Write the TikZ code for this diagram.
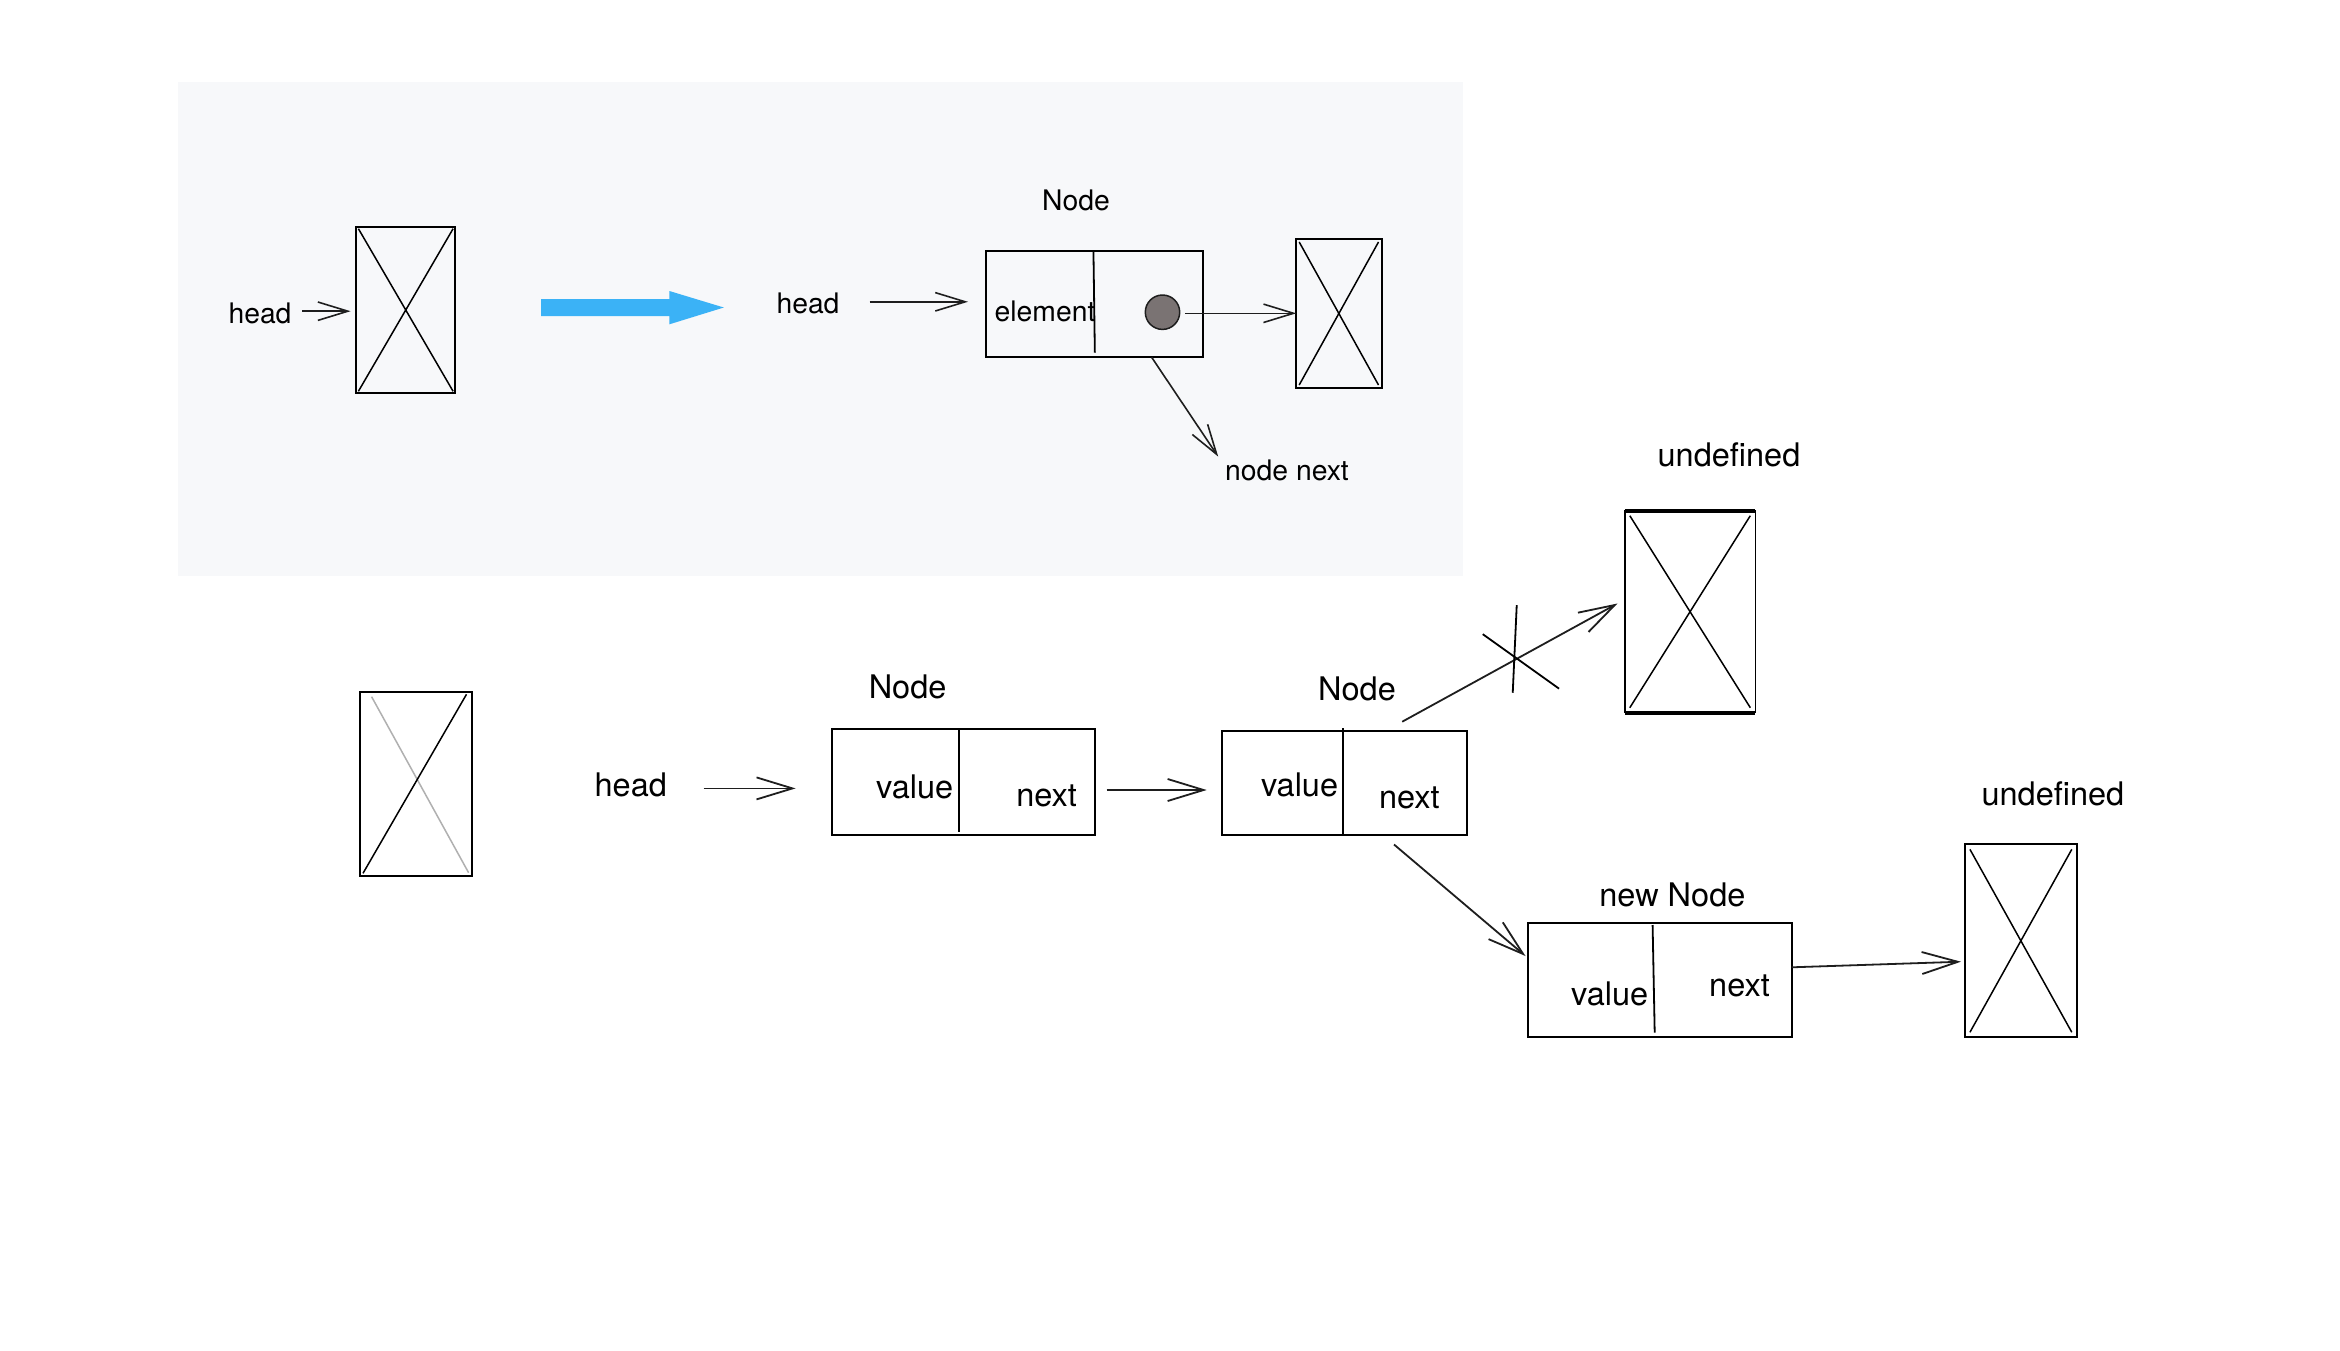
\documentclass[tikz,border=0pt]{standalone}
\usepackage{fontspec}
\setmainfont{TeX Gyre Heros}
\usetikzlibrary{arrows.meta,calc}
\definecolor{panel}{RGB}{247,248,250}
\definecolor{bluearrow}{RGB}{59,178,246}
\definecolor{dotgray}{RGB}{122,115,115}
\definecolor{lightx}{RGB}{176,176,176}
\definecolor{ink}{RGB}{30,30,30}
\begin{document}
\begin{tikzpicture}[x=1pt,y=-1pt,
  box/.style={draw=black, line width=2pt, inner sep=0pt, outer sep=0pt, rectangle},
  crossed/.style={path picture={
    \draw[line width=1.5pt] ([xshift=#1,yshift=-#1]path picture bounding box.north west) -- ([xshift=-#1,yshift=#1]path picture bounding box.south east)
      ([xshift=-#1,yshift=-#1]path picture bounding box.north east) -- ([xshift=#1,yshift=#1]path picture bounding box.south west);}},
  crossed/.default=4pt,
  txtL/.style={font=\fontsize{32.5}{39}\selectfont, inner sep=0pt, anchor=base},
  txtS/.style={font=\fontsize{28.3}{34}\selectfont, inner sep=0pt, anchor=base},
  arrB/.style={draw=ink, line width=1.8pt, -{Straight Barb[length=36pt,width=22pt]}},
  arrT/.style={draw=ink, line width=1.6pt, -{Straight Barb[length=30pt,width=18.4pt]}},
  divider/.style={line width=1.8pt}
]
\useasboundingbox (0,0) rectangle (2340,1350);
\fill[white] (0,0) rectangle (2340,1350);
\fill[panel] (177.6,82) rectangle (1462.5,576);

% ---------- top panel ----------
\node[box, crossed=2pt, minimum width=98.7pt, minimum height=166.6pt] (boxA) at (405.75,310) {};
\node[txtS] (headA) at (260,323.3) {head};

\fill[bluearrow] (541.2,299) -- (669.4,299) -- (669.4,291) -- (723.8,307.5) -- (669.4,324.3) -- (669.4,316) -- (541.2,316) -- cycle;

\node[txtS] (headB) at (808,313.3) {head};
\node[txtS] (nodeTop) at (1076,210) {Node};
\node[box, minimum width=216.5pt, minimum height=105.7pt] (nodeB) at (1094.65,303.85) {};
\draw[divider] ($(nodeB.north)+(-1.2,0.7)$) -- ($(nodeB.south)+(0.2,-4)$);
\node[txtS, anchor=base west] (elem) at (994.5,321.7) {element};
\node[circle, draw=ink, line width=1.5pt, fill=dotgray, minimum size=34.4pt, inner sep=0pt] (dot) at (1162.5,312.2) {};
\node[box, crossed=3pt, minimum width=85.3pt, minimum height=149pt] (boxB) at (1338.85,313.5) {};
\node[txtS] (nn) at (1287,480) {node next};

\draw[arrT, shorten <=10.5pt, shorten >=5.8pt] ([yshift=2pt]headA.east) -- ([yshift=2pt]headA.east -| boxA.west);
\draw[arrT, shorten <=30pt, shorten >=18.4pt] ([yshift=1.4pt]headB.east) -- ([yshift=1.4pt]headB.east -| nodeB.west);
\draw[arrT, shorten <=5pt] ([yshift=-1.1pt]dot.east) -- ([yshift=-1.1pt]dot.east -| boxB.west);
\draw[arrT] ($(nodeB.south)+(57,0.6)$) -- ($(nn.west)+(-6.8,-13.3)$);

% ---------- bottom ----------
\node[box, minimum width=111.2pt, minimum height=183.4pt] (boxC) at (416,784) {};
\draw[lightx, line width=1.5pt] ($(boxC.north west)+(11.2,4.4)$) -- ($(boxC.south east)+(-3,-3)$);
\draw[line width=1.5pt] ($(boxC.south west)+(2.6,-2.4)$) -- ($(boxC.north east)+(-5.1,2)$);

\node[txtL] (headC) at (630.8,796.7) {head};

\node[box, minimum width=262.7pt, minimum height=106pt] (boxD) at (963.65,781.7) {};
\draw[divider] ($(boxD.north)+(-4.75,1.3)$) -- ($(boxD.south)+(-4.75,-3)$);
\node[txtL] (lblD) at (907.6,698) {Node};
\node[txtL] (valD) at (914.7,798.3) {value};
\node[txtL] (nextD) at (1046.6,806.7) {next};

\node[box, minimum width=244.4pt, minimum height=104.3pt] (boxE) at (1344.5,782.85) {};
\draw[divider] ($(boxE.north)+(-1.6,-2.4)$) -- ($(boxE.south)+(-1.6,0)$);
\node[txtL] (lblE) at (1357,700) {Node};
\node[txtL] (valE) at (1299.6,796.7) {value};
\node[txtL] (nextE) at (1409.4,808.3) {next};

\node[box, line width=1.5pt, crossed=5pt, minimum width=130.5pt, minimum height=202pt] (boxF) at (1690.05,611.7) {};
\draw[line width=4pt] (boxF.north west) -- (boxF.north east) (boxF.south west) -- (boxF.south east);
\node[txtL] (undF) at (1729,466.7) {undefined};

\node[box, minimum width=263.1pt, minimum height=114pt] (boxG) at (1659.95,979.7) {};
\draw[divider] ($(boxG.north)+(-7.35,2.3)$) -- ($(boxG.south)+(-5.25,-4)$);
\node[txtL] (lblG) at (1672.4,906.7) {new Node};
\node[txtL] (valG) at (1609.7,1005) {value};
\node[txtL] (nextG) at (1739.5,996) {next};

\node[box, crossed=5pt, minimum width=111.9pt, minimum height=193pt] (boxH) at (2020.85,940.8) {};
\node[txtL] (undH) at (2052.9,805) {undefined};

% connectors
\draw[arrB, shorten <=36.4pt, shorten >=36.7pt] ([yshift=-3.3pt]headC.east) -- ([yshift=-3.3pt]headC.east -| boxD.west);
\draw[arrB, shorten <=11.7pt, shorten >=15.6pt] ([yshift=-8.3pt]boxD.east) -- ([yshift=-8.3pt]boxD.east -| boxE.west);
\draw[arrB] ($(boxE.north)+(57.7,-9)$) -- coordinate[pos=0.525] (cut) ($(boxF.west)+(-7.3,-8.2)$);
\draw[line width=1.8pt] ($(cut)+(1.5,-54.6)$) -- ($(cut)+(-2.5,33.1)$);
\draw[line width=1.8pt] ($(cut)+(-32.5,-25.5)$) -- ($(cut)+(43.8,29)$);
\draw[arrB] ($(boxE.south)+(49.5,9.5)$) -- ($(boxG.west)+(-2.9,-23.7)$);
\draw[arrB] ($(boxG.east)+(0,-12.4)$) -- ($(boxH.west)+(-3.9,20.9)$);
\end{tikzpicture}
\end{document}
